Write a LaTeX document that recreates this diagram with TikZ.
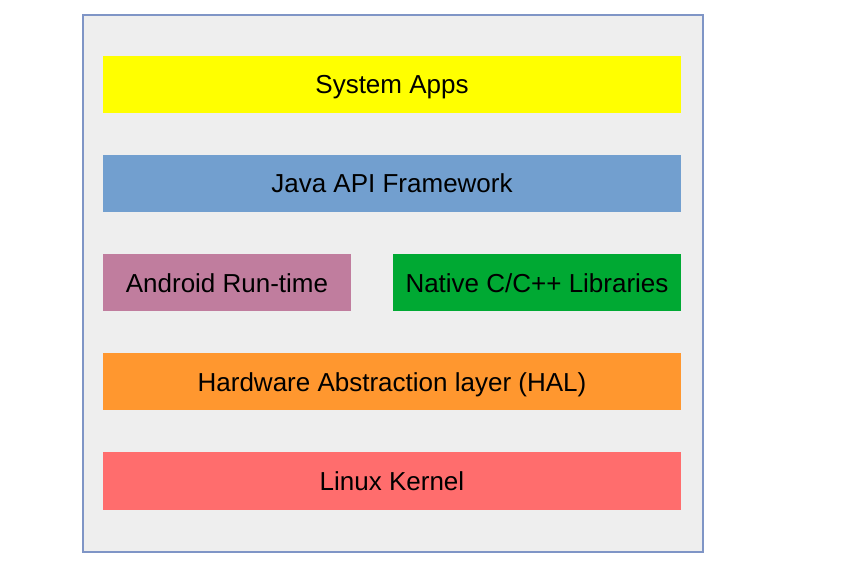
\documentclass[tikz,border=0pt]{standalone}
\usepackage{fontspec}
\setmainfont{Liberation Sans}
\definecolor{bgray}{HTML}{EEEEEE}
\definecolor{bord}{HTML}{7F95C6}
\definecolor{cyel}{HTML}{FFFF00}
\definecolor{cblue}{HTML}{729FCF}
\definecolor{cpink}{HTML}{C07D9E}
\definecolor{cgreen}{HTML}{00A933}
\definecolor{corange}{HTML}{FF972F}
\definecolor{cred}{HTML}{FF6D6D}
\begin{document}
\begin{tikzpicture}[x=1pt,y=-1pt,
  layer/.style={draw=none,inner sep=0pt,anchor=base,
    font=\fontsize{26}{30}\selectfont,text=black}]
\useasboundingbox (0,0) rectangle (868,579);
\fill[white] (0,0) rectangle (868,579);
\draw[fill=bgray,draw=bord,line width=1.2pt] (83,15) rectangle (703,552);
\fill[cyel] (103,56) rectangle (681,113);
\node[layer] (apps) at (392,93) {System Apps};
\fill[cblue] (103,155) rectangle (681,212);
\node[layer] (java) at (392,192) {Java API Framework};
\fill[cpink] (103,254) rectangle (351,311);
\node[layer] (art) at (227,292) {Android Run-time};
\fill[cgreen] (393,254) rectangle (681,311);
\node[layer] (native) at (537,292) {Native C/C++ Libraries};
\fill[corange] (103,353) rectangle (681,410);
\node[layer] (hal) at (392,391) {Hardware Abstraction layer (HAL)};
\fill[cred] (103,452) rectangle (681,510);
\node[layer] (kernel) at (392,490) {Linux Kernel};
\end{tikzpicture}
\end{document}
